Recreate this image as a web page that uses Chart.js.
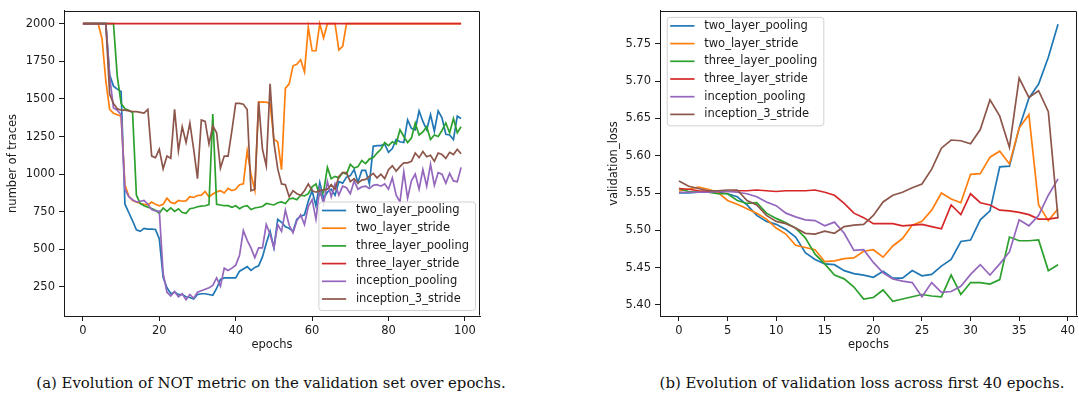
<!DOCTYPE html>
<html>
<head>
<meta charset="utf-8">
<script src="https://cdn.jsdelivr.net/npm/chart.js@4.4.1/dist/chart.umd.min.js"></script>
<style>
  html, body { margin: 0; padding: 0; background: #fff; }
  #page { position: relative; width: 1079px; height: 398px; overflow: hidden; }
  canvas { position: absolute; top: 0; }
  #chartA { left: 0; }
  #chartB { left: 560px; }
  .cap {
    position: absolute; top: 374px; line-height: 18px;
    font-family: 'DejaVu Serif', serif; font-size: 14.9px; color: #111;
    white-space: nowrap; transform: translateX(-50%);
  }
</style>
</head>
<body>
<div id="page">
  <canvas id="chartA" width="490" height="360"></canvas>
  <canvas id="chartB" width="519" height="360"></canvas>
  <div class="cap" style="left:271px">(a) Evolution of NOT metric on the validation set over epochs.</div>
  <div class="cap" style="left:862px">(b) Evolution of validation loss across first 40 epochs.</div>
</div>
<script>
const SERIES = ['two_layer_pooling', 'two_layer_stride', 'three_layer_pooling',
                'three_layer_stride', 'inception_pooling', 'inception_3_stride'];
const COLORS = ['#1f77b4', '#ff7f0e', '#2ca02c', '#d62728', '#9467bd', '#8c564b'];

// (a) number of traces per epoch, 0..99
const tracesTwoLayerPooling = [
  2000, 2000, 2000, 2000, 2000, 2000, 2000, 1660, 1585, 1565,
  1550, 800, 745, 690, 630, 620, 640, 635, 635, 632,
  570, 315, 245, 205, 215, 200, 200, 185, 180, 170,
  200, 205, 205, 200, 195, 240, 300, 310, 310, 310,
  310, 355, 370, 385, 360, 380, 390, 450, 540, 620,
  510, 700, 680, 650, 640, 620, 700, 720, 730, 820,
  890, 790, 945, 840, 880, 900, 860, 950, 940, 980,
  990, 1030, 945, 1025, 1025, 935, 1185, 1190, 1190, 1200,
  1145, 1170, 1230, 1215, 1210, 1360, 1305, 1295, 1420, 1350,
  1295, 1395, 1285, 1420, 1375, 1265, 1260, 1230, 1385, 1370
];
const tracesTwoLayerStride = [
  2000, 2000, 2000, 2000, 2000, 1900, 1620, 1430, 1405, 1395,
  1385, 930, 855, 825, 815, 805, 800, 795, 815, 800,
  790, 800, 840, 812, 805, 825, 820, 822, 850, 845,
  858, 860, 885, 850, 868, 882, 890, 875, 905, 890,
  900, 930, 935, 1155, 1000, 893, 1480, 1478, 1478, 1470,
  1230, 1215, 1030, 1570, 1600, 1720, 1730, 1760, 1680, 1975,
  1820, 1820, 2000, 1905, 2000, 2000, 2000, 1825, 1850, 2000,
  2000, 2000, 2000, 2000, 2000, 2000, 2000, 2000, 2000, 2000,
  2000, 2000, 2000, 2000, 2000, 2000, 2000, 2000, 2000, 2000,
  2000, 2000, 2000, 2000, 2000, 2000, 2000, 2000, 2000, 2000
];
const tracesThreeLayerPooling = [
  2000, 2000, 2000, 2000, 2000, 2000, 2000, 2000, 2000, 1650,
  1470, 1435, 1425, 1410, 860, 805, 790, 780, 772, 760,
  740, 775, 752, 775, 752, 770, 745, 740, 770, 775,
  783, 787, 790, 797, 1400, 800, 795, 790, 790, 780,
  790, 770, 785, 790, 765, 775, 780, 785, 805, 800,
  795, 810, 815, 805, 835, 840, 830, 860, 855, 870,
  915, 935, 860, 880, 1045, 970, 985, 975, 1010, 1000,
  1065, 1040, 1050, 1090, 1070, 1100, 1110, 1140, 1165, 1210,
  1190, 1215, 1200, 1295, 1250, 1210, 1240, 1340, 1260, 1280,
  1315, 1230, 1260, 1250, 1290, 1340, 1275, 1370, 1275, 1315
];
const tracesThreeLayerStride = [
  2000, 2000, 2000, 2000, 2000, 2000, 2000, 2000, 2000, 2000,
  2000, 2000, 2000, 2000, 2000, 2000, 2000, 2000, 2000, 2000,
  2000, 2000, 2000, 2000, 2000, 2000, 2000, 2000, 2000, 2000,
  2000, 2000, 2000, 2000, 2000, 2000, 2000, 2000, 2000, 2000,
  2000, 2000, 2000, 2000, 2000, 2000, 2000, 2000, 2000, 2000,
  2000, 2000, 2000, 2000, 2000, 2000, 2000, 2000, 2000, 2000,
  2000, 2000, 2000, 2000, 2000, 2000, 2000, 2000, 2000, 2000,
  2000, 2000, 2000, 2000, 2000, 2000, 2000, 2000, 2000, 2000,
  2000, 2000, 2000, 2000, 2000, 2000, 2000, 2000, 2000, 2000,
  2000, 2000, 2000, 2000, 2000, 2000, 2000, 2000, 2000, 2000
];
const tracesInceptionPooling = [
  2000, 2000, 2000, 2000, 2000, 2000, 2000, 1650, 1440, 1425,
  1395, 900, 850, 830, 815, 820, 825, 800, 765, 755,
  755, 340, 215, 190, 220, 185, 205, 165, 200, 175,
  215, 225, 235, 245, 260, 310, 255, 375, 360, 375,
  395, 460, 625, 560, 510, 445, 510, 510, 665, 600,
  510, 665, 620, 760, 660, 610, 690, 730, 665, 785,
  830, 700, 900, 800, 950, 850, 935, 860, 920, 910,
  870, 955, 900, 915, 920, 905, 925, 930, 920, 935,
  900, 975, 860, 815, 1015, 840, 955, 1000, 900, 1030,
  920, 1065, 925, 1010, 1000, 940, 1005, 955, 950, 1045
];
const tracesInception3Stride = [
  2000, 2000, 2000, 2000, 2000, 2000, 2000, 1530, 1470, 1435,
  1425, 1425, 1420, 1415, 1415, 1410, 1405, 1430, 1120, 1110,
  1165, 1035, 1120, 1105, 1430, 1155, 1315, 1210, 1340, 1165,
  970, 1360, 1350, 1200, 1320, 1275, 1040, 1120, 1120, 1290,
  1470, 1470, 1465, 1430, 890, 900, 1480, 1165, 1055, 1600,
  1210, 1035, 935, 930, 850, 890, 870, 860, 890, 935,
  890, 880, 890, 895, 900, 930, 900, 985, 1010, 1010,
  950, 970, 940, 960, 965, 985, 1005, 975, 1000, 970,
  1030, 1055, 1020, 1050, 1075, 1075, 1085, 1140, 1110, 1150,
  1115, 1125, 1085, 1140, 1130, 1105, 1145, 1130, 1165, 1135
];
const tracesTicksX = [0, 20, 40, 60, 80, 100];
const tracesTicksY = [250, 500, 750, 1000, 1250, 1500, 1750, 2000];

// (b) validation loss per epoch, 0..39
const lossTwoLayerPooling = [
  5.550, 5.550, 5.551, 5.551, 5.551, 5.549, 5.545, 5.534, 5.520, 5.512,
  5.508, 5.501, 5.491, 5.470, 5.461, 5.455, 5.454, 5.446, 5.442, 5.440,
  5.437, 5.445, 5.436, 5.436, 5.446, 5.439, 5.441, 5.452, 5.461, 5.485,
  5.487, 5.514, 5.526, 5.585, 5.586, 5.637, 5.677, 5.696, 5.732, 5.776
];
const lossTwoLayerStride = [
  5.553, 5.555, 5.558, 5.555, 5.551, 5.540, 5.535, 5.529, 5.523, 5.515,
  5.503, 5.495, 5.480, 5.477, 5.474, 5.458, 5.459, 5.462, 5.463, 5.472,
  5.474, 5.464, 5.479, 5.489, 5.507, 5.512, 5.527, 5.550, 5.542, 5.537,
  5.575, 5.576, 5.598, 5.606, 5.589, 5.637, 5.655, 5.534, 5.513, 5.529
];
const lossThreeLayerPooling = [
  5.556, 5.552, 5.551, 5.551, 5.549, 5.549, 5.540, 5.536, 5.537, 5.523,
  5.516, 5.510, 5.503, 5.490, 5.468, 5.455, 5.440, 5.435, 5.424, 5.408,
  5.410, 5.420, 5.405, 5.408, 5.411, 5.414, 5.412, 5.411, 5.440, 5.414,
  5.430, 5.430, 5.428, 5.434, 5.491, 5.486, 5.486, 5.487, 5.446, 5.454
];
const lossThreeLayerStride = [
  5.556, 5.555, 5.553, 5.552, 5.552, 5.552, 5.553, 5.553, 5.554, 5.553,
  5.552, 5.553, 5.553, 5.553, 5.554, 5.551, 5.547, 5.536, 5.523, 5.517,
  5.509, 5.509, 5.509, 5.506, 5.507, 5.508, 5.505, 5.502, 5.534, 5.521,
  5.549, 5.537, 5.534, 5.527, 5.526, 5.524, 5.521, 5.515, 5.515, 5.517
];
const lossInceptionPooling = [
  5.551, 5.551, 5.551, 5.551, 5.552, 5.552, 5.551, 5.549, 5.545, 5.538,
  5.533, 5.523, 5.518, 5.514, 5.513, 5.506, 5.511, 5.496, 5.473, 5.474,
  5.457, 5.443, 5.435, 5.432, 5.430, 5.411, 5.430, 5.417, 5.418, 5.425,
  5.441, 5.454, 5.440, 5.455, 5.471, 5.514, 5.506, 5.520, 5.547, 5.569
];
const lossInception3Stride = [
  5.566, 5.559, 5.556, 5.553, 5.553, 5.554, 5.554, 5.540, 5.534, 5.520,
  5.512, 5.509, 5.503, 5.496, 5.495, 5.499, 5.496, 5.505, 5.507, 5.508,
  5.520, 5.538, 5.547, 5.551, 5.557, 5.562, 5.582, 5.610, 5.621, 5.620,
  5.616, 5.635, 5.675, 5.653, 5.611, 5.704, 5.678, 5.687, 5.659, 5.516
];
const lossTicksX = [0, 5, 10, 15, 20, 25, 30, 35, 40];
const lossTicksY = [5.40, 5.45, 5.50, 5.55, 5.60, 5.65, 5.70, 5.75];

const INK = '#1a1a1a';
const FONT = { family: "'DejaVu Sans', sans-serif", size: 11.5 };

const points = vals => vals.map((y, x) => ({ x, y }));

// matplotlib stacks later lines on top, chart.js does the reverse -> flip order
function lines(rows) {
  return rows.map((vals, i) => ({
    label: SERIES[i],
    data: points(vals),
    borderColor: COLORS[i],
    backgroundColor: COLORS[i],
    borderWidth: 1.7,
    pointRadius: 0,
    tension: 0,
    order: rows.length - 1 - i,
  }));
}

const fixedTicks = list => scale => { scale.ticks = list.map(value => ({ value })); };

function axes(o) {
  const grid = { display: true, drawOnChartArea: false, drawTicks: true, tickLength: 5, color: INK, lineWidth: 1 };
  const border = { display: true, color: INK, width: 1 };
  return {
    x: {
      type: 'linear', min: o.xMin, max: o.xMax,
      afterBuildTicks: fixedTicks(o.xTicks),
      afterFit: s => { s.height = 44; },
      ticks: { color: INK, font: FONT, padding: 3, maxRotation: 0, callback: v => String(v) },
      grid, border,
      title: { display: true, text: 'epochs', color: INK, font: FONT, padding: { top: 0, bottom: 8 } },
    },
    y: {
      type: 'linear', min: o.yMin, max: o.yMax,
      afterBuildTicks: fixedTicks(o.yTicks),
      afterFit: s => { s.width = o.yWidth; },
      ticks: { color: INK, font: FONT, padding: 4, callback: o.yFmt },
      grid, border,
      title: { display: true, text: o.yTitle, color: INK, font: FONT, padding: { top: o.yTitlePad, bottom: 0 } },
    },
  };
}

// top/right spines plus a framed key inside the plot area
const frameAndKey = {
  id: 'frameAndKey',
  afterDraw(chart, args, opts) {
    const { ctx, chartArea: a } = chart;
    ctx.save();
    ctx.strokeStyle = INK;
    ctx.lineWidth = 1;
    ctx.beginPath();
    ctx.moveTo(Math.round(a.left) + 0.5, Math.round(a.top) + 0.5);
    ctx.lineTo(Math.round(a.right) - 0.5, Math.round(a.top) + 0.5);
    ctx.lineTo(Math.round(a.right) - 0.5, Math.round(a.bottom) - 0.5);
    ctx.stroke();

    const sets = chart.data.datasets;
    ctx.font = `${FONT.size}px ${FONT.family}`;
    const rowH = 17.7, handle = 24.3, gap = 9.7, padL = 3.5, padR = 6;
    const textW = Math.max(...sets.map(d => ctx.measureText(d.label).width));
    const w = padL + handle + gap + textW + padR;
    const h = 9 + rowH * (sets.length - 1) + 11;
    const x0 = opts.corner === 'br' ? a.right - 5 - w : a.left + 6.7;
    const y0 = opts.corner === 'br' ? a.bottom - 6 - h : a.top + 6;

    ctx.beginPath();
    ctx.roundRect(x0 + 0.5, y0 + 0.5, w, h, 3);
    ctx.fillStyle = 'rgba(255,255,255,0.8)';
    ctx.fill();
    ctx.strokeStyle = 'rgba(204,204,204,0.9)';
    ctx.stroke();

    ctx.textBaseline = 'middle';
    ctx.textAlign = 'left';
    sets.forEach((d, i) => {
      const cy = y0 + 9 + i * rowH;
      ctx.strokeStyle = d.borderColor;
      ctx.lineWidth = 1.7;
      ctx.beginPath();
      ctx.moveTo(x0 + padL, cy);
      ctx.lineTo(x0 + padL + handle, cy);
      ctx.stroke();
      ctx.fillStyle = INK;
      ctx.fillText(d.label, x0 + padL + handle + gap, cy);
    });
    ctx.restore();
  },
};

function baseOptions(padRight, key, scales) {
  return {
    responsive: false,
    animation: false,
    devicePixelRatio: 1,
    layout: { padding: { left: 0, top: 6, right: padRight, bottom: 0 } },
    plugins: { legend: { display: false }, tooltip: { enabled: false }, frameAndKey: key },
    scales,
  };
}

new Chart(document.getElementById('chartA'), {
  type: 'line',
  data: {
    datasets: lines([tracesTwoLayerPooling, tracesTwoLayerStride, tracesThreeLayerPooling,
                     tracesThreeLayerStride, tracesInceptionPooling, tracesInception3Stride]),
  },
  options: baseOptions(10, { corner: 'br' }, axes({
    xMin: -4.95, xMax: 103.95, xTicks: tracesTicksX,
    yMin: 57, yMax: 2085, yTicks: tracesTicksY, yFmt: v => String(v),
    yWidth: 64, yTitle: 'number of traces', yTitlePad: 6.6,
  })),
  plugins: [frameAndKey],
});

new Chart(document.getElementById('chartB'), {
  type: 'line',
  data: {
    datasets: lines([lossTwoLayerPooling, lossTwoLayerStride, lossThreeLayerPooling,
                     lossThreeLayerStride, lossInceptionPooling, lossInception3Stride]),
  },
  options: baseOptions(2, { corner: 'tl' }, axes({
    xMin: -1.95, xMax: 40.95, xTicks: lossTicksX,
    yMin: 5.3852, yMax: 5.7940, yTicks: lossTicksY, yFmt: v => v.toFixed(2),
    yWidth: 100, yTitle: 'validation_loss', yTitlePad: 47,
  })),
  plugins: [frameAndKey],
});
</script>
</body>
</html>
